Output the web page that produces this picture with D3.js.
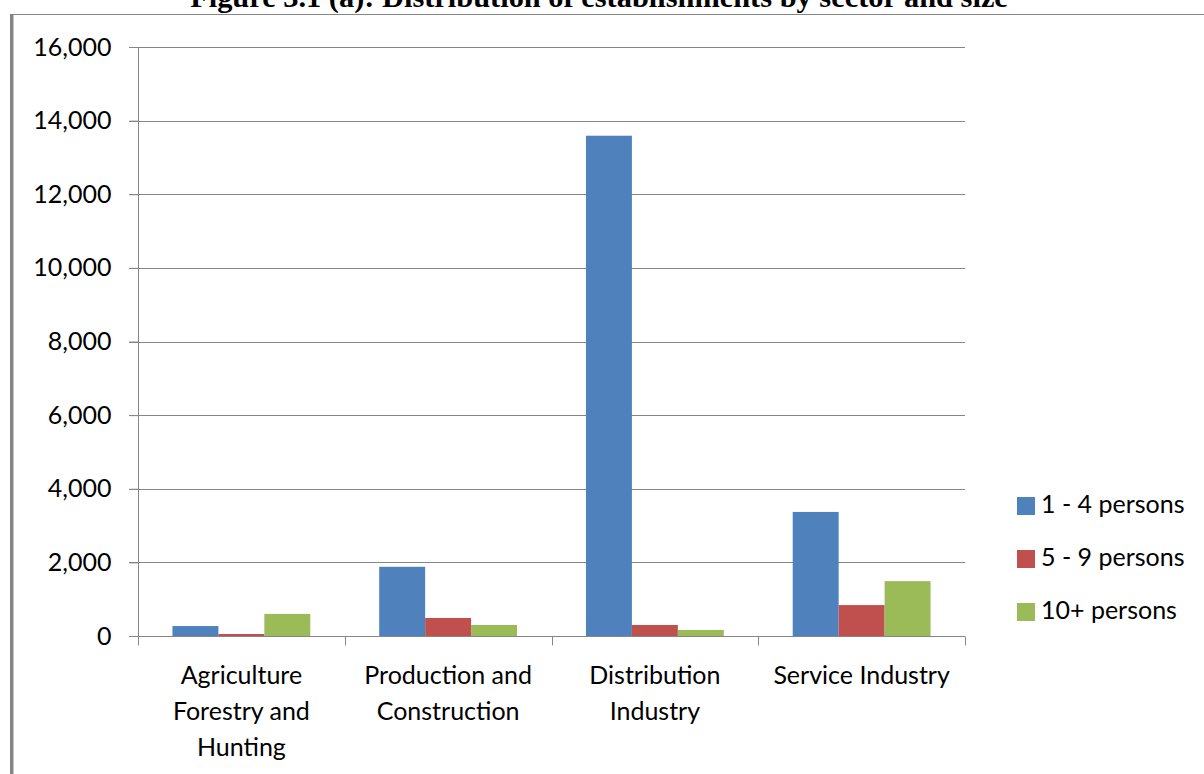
<!DOCTYPE html>
<html>
<head>
<meta charset="utf-8">
<script src="https://cdn.jsdelivr.net/npm/d3@7"></script>
<style>
  html, body { margin: 0; padding: 0; background: #fff; }
  svg { display: block; }
</style>
</head>
<body>
<svg id="chart" width="1204" height="774"></svg>
<script>
// Establishments by sector and size band
const categories = [
  ["Agriculture", "Forestry and", "Hunting"],
  ["Production and", "Construction"],
  ["Distribution", "Industry"],
  ["Service Industry"]
];
const seriesNames = ["1 - 4 persons", "5 - 9 persons", "10+ persons"];
const small = [270, 1880, 13590, 3370];     // 1 - 4 persons
const medium = [55, 490, 300, 840];         // 5 - 9 persons
const large = [600, 300, 165, 1490];        // 10+ persons
const yTicks = [0, 2000, 4000, 6000, 8000, 10000, 12000, 14000, 16000];
const colors = ["#4F81BD", "#C0504D", "#9BBB59"];
const titleText = "Figure 3.1 (a): Distribution of establishments by sector and size";

const seriesValues = [small, medium, large];
const catKeys = categories.map(c => c.join(" "));

const svg = d3.select("#chart");
const plotLeft = 138, plotRight = 965, plotTop = 47, plotBottom = 636;
const axisColor = "#868686";
const labelFont = "Lato, 'Open Sans', sans-serif";

// outer frame
svg.append("line").attr("x1", 10).attr("x2", 1204).attr("y1", 14.5).attr("y2", 14.5)
  .attr("stroke", axisColor).attr("stroke-width", 1.2);
svg.append("rect").attr("x", 10).attr("y", 14).attr("width", 3.5).attr("height", 760)
  .attr("fill", axisColor);

// title
svg.append("text")
  .attr("x", 599).attr("y", 7)
  .attr("text-anchor", "middle")
  .style("font-family", "'Liberation Serif', 'Times New Roman', serif")
  .style("font-weight", "bold")
  .style("font-size", "30.4px")
  .attr("fill", "#000")
  .text(titleText);

const x = d3.scaleBand().domain(catKeys).range([plotLeft, plotRight]).padding(0);
const xs = d3.scaleBand().domain(seriesNames).range([0, x.bandwidth()])
  .paddingInner(0).paddingOuter(0.75);
const y = d3.scaleLinear().domain([0, 16000]).range([plotBottom, plotTop]);

// gridlines
svg.append("g").selectAll("line").data(yTicks.filter(t => t > 0)).join("line")
  .attr("x1", plotLeft - 9).attr("x2", plotRight)
  .attr("y1", d => Math.round(y(d)) + 0.5).attr("y2", d => Math.round(y(d)) + 0.5)
  .attr("stroke", axisColor).attr("stroke-width", 1);

// y axis
const yAxis = d3.axisLeft(y).tickValues(yTicks).tickSize(9).tickPadding(18)
  .tickFormat(d3.format(","));
const yg = svg.append("g").attr("transform", `translate(${plotLeft + 0.5},0)`).call(yAxis);
yg.select(".domain").attr("stroke", axisColor).attr("d", `M0,${plotTop}V${plotBottom}`);
yg.selectAll(".tick line").attr("stroke", axisColor);
yg.selectAll(".tick text")
  .style("font-family", labelFont).style("font-size", "25px").attr("fill", "#000");

// bars
const groups = svg.append("g").selectAll("g").data(catKeys).join("g")
  .attr("transform", d => `translate(${x(d)},0)`);
groups.selectAll("rect")
  .data((d, i) => seriesNames.map((s, j) => ({ s, v: seriesValues[j][i], c: colors[j] })))
  .join("rect")
  .attr("x", d => xs(d.s))
  .attr("width", xs.bandwidth())
  .attr("y", d => y(d.v))
  .attr("height", d => y(0) - y(d.v))
  .attr("fill", d => d.c);

// x axis baseline and category ticks
const xAxisG = svg.append("g").attr("transform", `translate(0,${Math.round(plotBottom) + 0.5})`);
xAxisG.append("line").attr("x1", plotLeft - 9).attr("x2", plotRight).attr("stroke", axisColor);
const boundaries = catKeys.map(k => x(k)).concat([plotRight]);
xAxisG.selectAll("line.tk").data(boundaries).join("line").attr("class", "tk")
  .attr("x1", d => Math.round(d) + 0.5).attr("x2", d => Math.round(d) + 0.5)
  .attr("y1", 0).attr("y2", 9).attr("stroke", axisColor);

// category labels
const catLabels = svg.append("g").selectAll("text").data(categories).join("text")
  .attr("text-anchor", "middle")
  .attr("x", (d, i) => x(catKeys[i]) + x.bandwidth() / 2)
  .attr("y", 684)
  .style("font-family", labelFont).style("font-size", "25px").attr("fill", "#000");
catLabels.selectAll("tspan").data(d => d).join("tspan")
  .attr("x", function () { return this.parentNode.getAttribute("x"); })
  .attr("dy", (d, i) => i === 0 ? 0 : 36)
  .text(d => d);

// legend
const legend = svg.append("g").selectAll("g").data(seriesNames).join("g")
  .attr("transform", (d, i) => `translate(1017,${497 + i * 53})`);
legend.append("rect").attr("width", 18).attr("height", 18).attr("fill", (d, i) => colors[i]);
legend.append("text").attr("x", 24).attr("y", 16)
  .style("font-family", labelFont).style("font-size", "25px").attr("fill", "#000")
  .text(d => d);
</script>
</body>
</html>
